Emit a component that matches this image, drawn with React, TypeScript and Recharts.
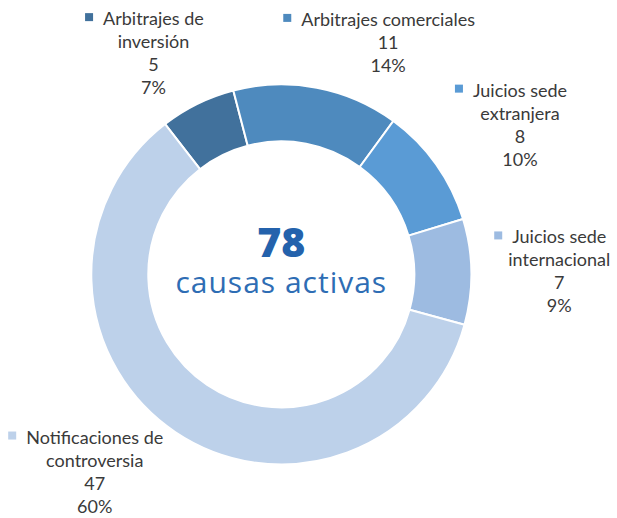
import React from "react";
import { PieChart, Pie, Cell, Label } from "recharts";

const categories = [
  "Arbitrajes de inversión",
  "Arbitrajes comerciales",
  "Juicios sede extranjera",
  "Juicios sede internacional",
  "Notificaciones de controversia",
];
const labelLines = [
  ["Arbitrajes de", "inversión"],
  ["Arbitrajes comerciales"],
  ["Juicios sede", "extranjera"],
  ["Juicios sede", "internacional"],
  ["Notificaciones de", "controversia"],
];
const counts = [5, 11, 8, 7, 47];
const percentLabels = ["7%", "14%", "10%", "9%", "60%"];
const centerCaption = "causas activas";

const colors = ["#41719C", "#4E8ABE", "#5A9BD5", "#9DBBE1", "#BDD1EA"];
// label placement nudges (layout only)
const labelNudges = [
  [-15, 8],
  [59, 19],
  [30, -2],
  [22, 0],
  [-44, -16],
];

const data = categories.map((name, i) => ({ name, value: counts[i] }));
const total = counts.reduce((a, b) => a + b, 0);

const LABEL_FONT = "Lato, 'Noto Sans', sans-serif";
const LABEL_SIZE = 18;
const LINE_H = 23;
const RAD = Math.PI / 180;

let ctx: CanvasRenderingContext2D | null = null;
function measure(text: string) {
  if (!ctx && typeof document !== "undefined") {
    ctx = document.createElement("canvas").getContext("2d");
  }
  if (!ctx) return text.length * LABEL_SIZE * 0.5;
  ctx.font = `${LABEL_SIZE}px Lato`;
  return ctx.measureText(text).width;
}

const renderLabel = (props: any) => {
  const { cx, cy, midAngle, outerRadius, index } = props;
  const r = outerRadius + 66;
  const bx = cx + r * Math.cos(-midAngle * RAD) + labelNudges[index][0];
  const by = cy + r * Math.sin(-midAngle * RAD) + labelNudges[index][1];
  const lines = [...labelLines[index], String(counts[index]), percentLabels[index]];
  const y0 = by - ((lines.length - 1) * LINE_H) / 2;
  const w1 = measure(lines[0]);
  const sq = 8;
  return (
    <g key={`lbl-${index}`}>
      <rect
        x={bx - w1 / 2 - 10 - sq}
        y={y0 - sq / 2 - 1}
        width={sq}
        height={sq}
        fill={colors[index]}
      />
      {lines.map((t, k) => (
        <text
          key={k}
          x={bx}
          y={y0 + k * LINE_H}
          textAnchor="middle"
          dominantBaseline="central"
          fontFamily={LABEL_FONT}
          fontSize={LABEL_SIZE}
          fill="#3A3A3A"
        >
          {t}
        </text>
      ))}
    </g>
  );
};

export default function App() {
  return (
    <div style={{ position: "absolute", left: 0, top: 0, width: 617, height: 518, background: "#fff" }}>
      <PieChart width={617} height={518} margin={{ top: 0, right: 0, bottom: 0, left: 0 }}>
        <Pie
          data={data}
          dataKey="value"
          nameKey="name"
          cx={281.3}
          cy={274.4}
          innerRadius={133}
          outerRadius={190}
          startAngle={127.7}
          endAngle={-232.3}
          stroke="#ffffff"
          strokeWidth={2}
          label={renderLabel}
          labelLine={false}
          isAnimationActive={false}
        >
          {data.map((d, i) => (
            <Cell key={d.name} fill={colors[i]} />
          ))}
          <Label
            position="center"
            content={(p: any) => {
              const vb = p.viewBox || {};
              const cx = vb.cx ?? 281.3;
              const cy = vb.cy ?? 274.4;
              return (
                <g>
                  <text
                    x={cx}
                    y={cy - 17}
                    textAnchor="middle"
                    fontFamily="'Open Sans', sans-serif"
                    fontWeight={800}
                    fontSize={41}
                    fill="#2462AC"
                  >
                    {total}
                  </text>
                  <text
                    x={cx}
                    y={cy + 19}
                    textAnchor="middle"
                    fontFamily="'Open Sans', sans-serif"
                    fontSize={30}
                    letterSpacing={1}
                    fill="#2E6DB4"
                  >
                    {centerCaption}
                  </text>
                </g>
              );
            }}
          />
        </Pie>
      </PieChart>
    </div>
  );
}
